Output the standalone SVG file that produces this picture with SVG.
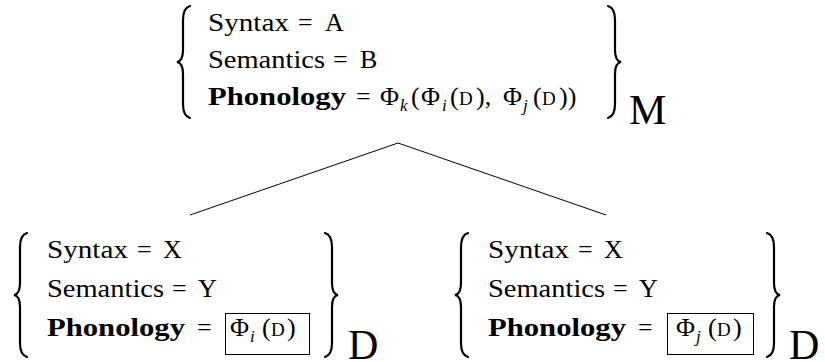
<svg xmlns="http://www.w3.org/2000/svg" width="825" height="362" viewBox="0 0 825 362" font-family="'Liberation Serif', serif">
<style>
text{font-family:"Liberation Serif","Times New Roman",serif;font-size:26px;fill:#000}
.b{font-weight:bold}
.sc{font-size:19px}
.sub{font-size:17px;font-style:italic}
.big{font-size:42px}
.br{fill:none;stroke:#000;stroke-width:2.2;stroke-linecap:round}
.bx{fill:none;stroke:#000;stroke-width:1}
.ln{stroke:#000;stroke-width:1;fill:none}
</style>
<g id="connectors">
<line class="ln" x1="398" y1="143" x2="190" y2="215"/>
<line class="ln" x1="398" y1="143" x2="606" y2="215"/>
</g>
<g id="node-M">
<path class="br" d="M190,6 Q183,8 183,20 L183,50 Q183,61 177,62 Q183,63 183,74 L183,104 Q183,116 190,118"/>
<text x="208" y="31" textLength="81" lengthAdjust="spacingAndGlyphs">Syntax</text>
<text x="298" y="31">=</text>
<text x="325" y="31">A</text>
<text x="208" y="68" textLength="117" lengthAdjust="spacingAndGlyphs">Semantics</text>
<text x="333" y="68">=</text>
<text x="360" y="68">B</text>
<text class="b" x="208" y="105" textLength="138" lengthAdjust="spacingAndGlyphs">Phonology</text>
<text x="356" y="105">=</text>
<text y="105"><tspan x="380">Φ</tspan><tspan class="sub" x="400" dy="6">k</tspan><tspan x="411" dy="-6">(</tspan><tspan x="421">Φ</tspan><tspan class="sub" x="442" dy="6">i</tspan><tspan x="450" dy="-6">(</tspan><tspan class="sc" x="459">D</tspan><tspan x="476">),</tspan><tspan x="503">Φ</tspan><tspan class="sub" x="523" dy="6">j</tspan><tspan x="533" dy="-6">(</tspan><tspan class="sc" x="542">D</tspan><tspan x="559">))</tspan></text>
<path class="br" d="M608,6 Q615,8 615,20 L615,50 Q615,61 621,62 Q615,63 615,74 L615,104 Q615,116 608,118"/>
<text class="big" x="629" y="124">M</text>
</g>
<g id="node-D1">
<path class="br" d="M27,233 Q20,235 20,247 L20,283 Q20,294 14,295 Q20,296 20,307 L20,343 Q20,355 27,357"/>
<text x="47" y="258" textLength="81" lengthAdjust="spacingAndGlyphs">Syntax</text>
<text x="137" y="258">=</text>
<text x="163" y="258">X</text>
<text x="47" y="297" textLength="117" lengthAdjust="spacingAndGlyphs">Semantics</text>
<text x="172" y="297">=</text>
<text x="198" y="297">Y</text>
<text class="b" x="47" y="336" textLength="138" lengthAdjust="spacingAndGlyphs">Phonology</text>
<text x="197" y="336">=</text>
<rect class="bx" x="225.5" y="313.5" width="84" height="41"/>
<text y="336"><tspan x="230">Φ</tspan><tspan class="sub" x="250" dy="6">i</tspan><tspan x="262" dy="-6">(</tspan><tspan class="sc" x="271">D</tspan><tspan x="287">)</tspan></text>
<path class="br" d="M325,233 Q332,235 332,247 L332,283 Q332,294 338,295 Q332,296 332,307 L332,343 Q332,355 325,357"/>
<text class="big" x="348" y="359">D</text>
</g>
<g id="node-D2">
<path class="br" d="M468,233 Q461,235 461,247 L461,283 Q461,294 455,295 Q461,296 461,307 L461,343 Q461,355 468,357"/>
<text x="488" y="258" textLength="81" lengthAdjust="spacingAndGlyphs">Syntax</text>
<text x="578" y="258">=</text>
<text x="604" y="258">X</text>
<text x="488" y="297" textLength="117" lengthAdjust="spacingAndGlyphs">Semantics</text>
<text x="613" y="297">=</text>
<text x="639" y="297">Y</text>
<text class="b" x="488" y="336" textLength="138" lengthAdjust="spacingAndGlyphs">Phonology</text>
<text x="638" y="336">=</text>
<rect class="bx" x="667.5" y="313.5" width="86" height="41"/>
<text y="336"><tspan x="676">Φ</tspan><tspan class="sub" x="696" dy="6">j</tspan><tspan x="708" dy="-6">(</tspan><tspan class="sc" x="717">D</tspan><tspan x="733">)</tspan></text>
<path class="br" d="M767,233 Q774,235 774,247 L774,283 Q774,294 780,295 Q774,296 774,307 L774,343 Q774,355 767,357"/>
<text class="big" x="789" y="359">D</text>
</g>
</svg>
